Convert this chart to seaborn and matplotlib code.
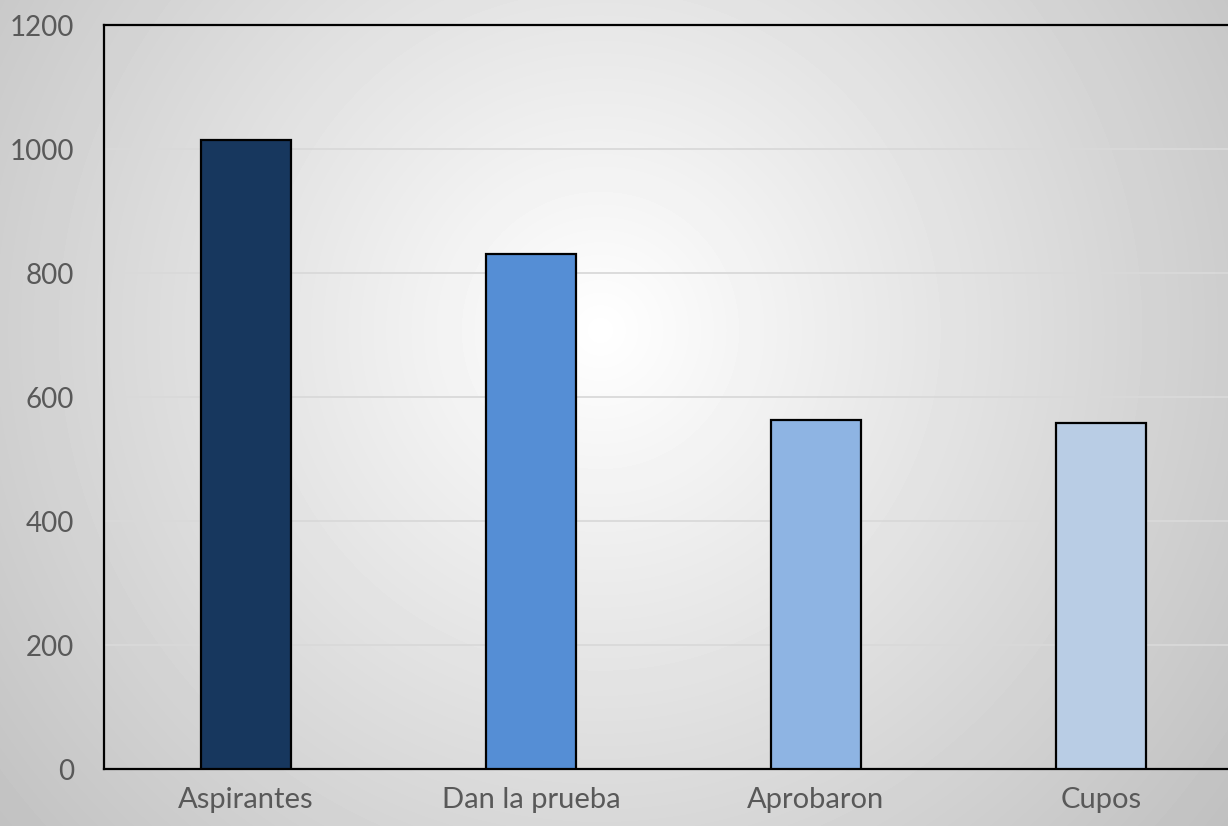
import numpy as np
import pandas as pd
import matplotlib
matplotlib.use("Agg")
import matplotlib.pyplot as plt
import seaborn as sns

categories = ["Aspirantes", "Dan la prueba", "Aprobaron", "Cupos"]
values = [1015, 831, 563, 558]
colors = ["#17375E", "#558ED5", "#8EB4E3", "#B9CDE5"]
yticks = [0, 200, 400, 600, 800, 1000, 1200]

sns.set_theme(style="white")
plt.rcParams["font.family"] = ["Lato", "DejaVu Sans"]

W, H = 1228, 826
fig = plt.figure(figsize=(W / 100, H / 100), dpi=100)

# radial gradient background
bg = fig.add_axes([0, 0, 1, 1], zorder=0)
yy, xx = np.mgrid[0:H, 0:W]
r = np.sqrt((xx - 600) ** 2 + (yy - 330) ** 2)
v = np.clip(1 - 0.00031 * r, 0, 1)
bg.imshow(v, cmap="gray", vmin=0, vmax=1, aspect="auto", extent=[0, 1, 0, 1],
          interpolation="bilinear")
bg.axis("off")

left, right = 103.5, 1243.5
top, bottom = 25, 769
ax = fig.add_axes([left / W, (H - bottom) / H, (right - left) / W, (bottom - top) / H], zorder=1)
ax.set_facecolor("none")

df = pd.DataFrame({"cat": categories, "val": values})
sns.barplot(data=df, x="cat", y="val", hue="cat", palette=colors, width=0.316,
            saturation=1, edgecolor="black", linewidth=1.6, legend=False, ax=ax, zorder=3)

ax.set_ylim(0, 1200)
ax.set_xlim(-0.5, 3.5)
ax.set_yticks(yticks)
ax.set_yticklabels([str(t) for t in yticks])
ax.yaxis.grid(True, color="#d9d9d9", linewidth=1.3, zorder=0)
ax.set_axisbelow(True)
ax.set_xlabel("")
ax.set_ylabel("")
for s in ["left", "bottom", "top", "right"]:
    ax.spines[s].set_visible(True)
    ax.spines[s].set_color("black")
    ax.spines[s].set_linewidth(1.6)
ax.tick_params(axis="y", length=0, pad=21, labelsize=20, labelcolor="#595959")
ax.tick_params(axis="x", length=0, pad=13, labelsize=21, labelcolor="#595959")

fig.savefig("out.png", dpi=100)
